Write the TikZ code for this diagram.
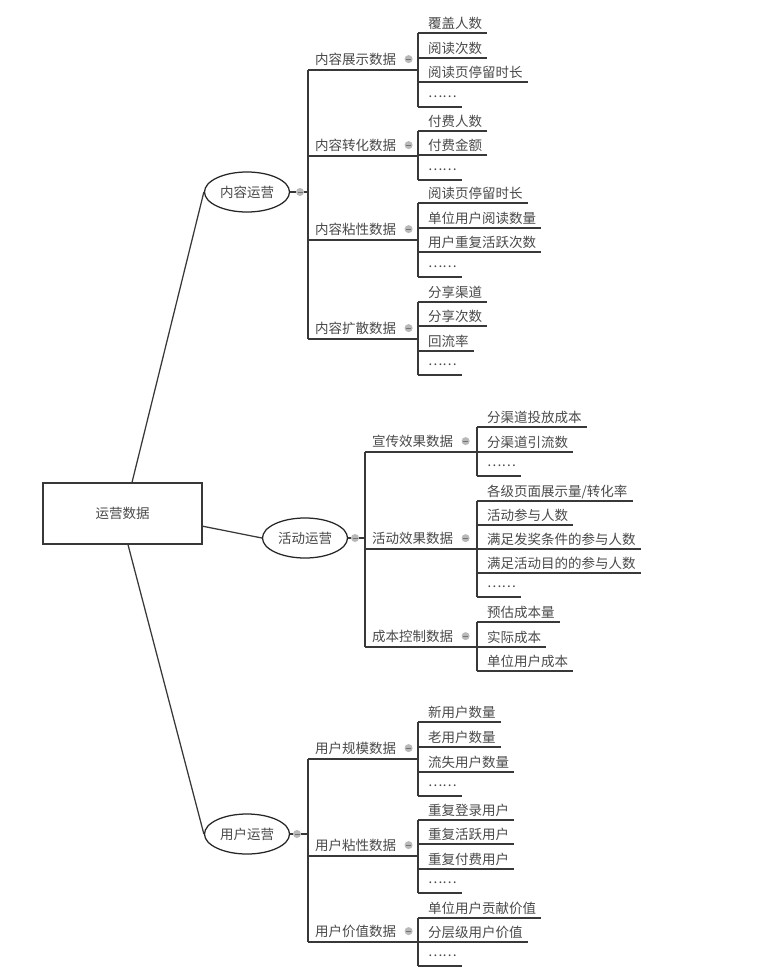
\documentclass[tikz,border=0pt]{standalone}
\usepackage{fontspec}
\setmainfont{Noto Sans CJK SC}
\usetikzlibrary{shapes.geometric, positioning}
\definecolor{inkline}{HTML}{383838}
\definecolor{inktext}{HTML}{4A4A4A}
\newcommand{\moredots}{\raisebox{5pt}{……}}
\tikzset{
    label font/.style={text=inktext, font=\fontsize{13.5}{16}\selectfont},
    branch/.style={draw=inkline, line width=1.25pt},
    rootbox/.style={rectangle, draw=inkline, line width=1.25pt, minimum width=159pt, minimum height=61pt, label font},
    topic/.style={ellipse, draw=black!85, line width=1.25pt, minimum width=85pt, minimum height=40pt, inner sep=0pt, label font},
    knob/.style={circle, fill=gray!55, minimum size=8pt, inner sep=0pt,
        path picture={\draw[gray!90!black, line width=0.8pt] ([xshift=-2.5pt]path picture bounding box.center) -- ([xshift=2.5pt]path picture bounding box.center);}},
    category/.style={anchor=south west, inner xsep=0pt, inner ysep=5pt, text depth=0pt, label font, execute at begin node={\hspace{7pt}}},
    leaf/.style={anchor=south west, inner xsep=5pt, inner ysep=4pt, text depth=0pt, label font, execute at begin node={\hspace{5pt}},
        append after command={(\tikzlastnode.south west) edge[branch] (\tikzlastnode.south east)}}
}
\begin{document}
\begin{tikzpicture}[x=1pt, y=-1pt]
        \fill[white] (0,0) rectangle (762,970);
        \useasboundingbox (0,0) rectangle (762,970);

        \node (yunying) [rootbox] at (122.5,513.5) {运营数据};
        \node (neirong) [topic] at (247,192) {内容运营};
        \node (huodongyy) [topic] at (305,538) {活动运营};
        \node (yonghu) [topic] at (247,834) {用户运营};
        \node (neirongk) [knob] at (300,192) {};
        \node (huodongyyk) [knob] at (355,538) {};
        \node (yonghuk) [knob] at (297,834) {};

        \draw [branch] (yunying.73) -- (neirong.west);
        \draw [branch] (yunying.-9) -- (huodongyy.west);
        \draw [branch] (yunying.-80) -- (yonghu.west);

        % 内容运营
        \node (zhanshi) [category] at (308,70) {内容展示数据};
        \node (zhuanhua) [category] at (308,156) {内容转化数据};
        \node (nianxing) [category] at (308,240) {内容粘性数据};
        \node (kuosan) [category] at (308,339) {内容扩散数据};

        \node (zhanshi1) [leaf] at (418,33) {覆盖人数};
        \node (zhanshi2) [leaf] at (418,58) {阅读次数};
        \node (zhanshi3) [leaf] at (418,82) {阅读页停留时长};
        \node (zhanshi4) [leaf] at (418,107) {\moredots};
        \node (zhuanhua1) [leaf] at (418,131) {付费人数};
        \node (zhuanhua2) [leaf] at (418,155) {付费金额};
        \node (zhuanhua3) [leaf] at (418,180) {\moredots};
        \node (nianxing1) [leaf] at (418,203) {阅读页停留时长};
        \node (nianxing2) [leaf] at (418,228) {单位用户阅读数量};
        \node (nianxing3) [leaf] at (418,252) {用户重复活跃次数};
        \node (nianxing4) [leaf] at (418,277) {\moredots};
        \node (kuosan1) [leaf] at (418,302) {分享渠道};
        \node (kuosan2) [leaf] at (418,326) {分享次数};
        \node (kuosan3) [leaf] at (418,351) {回流率};
        \node (kuosan4) [leaf] at (418,375) {\moredots};

        % 活动运营
        \node (xuanchuan) [category] at (365,452) {宣传效果数据};
        \node (xiaoguo) [category] at (365,549) {活动效果数据};
        \node (chengben) [category] at (365,647) {成本控制数据};

        \node (xuanchuan1) [leaf] at (477,427) {分渠道投放成本};
        \node (xuanchuan2) [leaf] at (477,452) {分渠道引流数};
        \node (xuanchuan3) [leaf] at (477,476) {\moredots};
        \node (xiaoguo1) [leaf] at (477,501) {各级页面展示量/转化率};
        \node (xiaoguo2) [leaf] at (477,525) {活动参与人数};
        \node (xiaoguo3) [leaf] at (477,549) {满足发奖条件的参与人数};
        \node (xiaoguo4) [leaf] at (477,573) {满足活动目的的参与人数};
        \node (xiaoguo5) [leaf] at (477,597) {\moredots};
        \node (chengben1) [leaf] at (477,622) {预估成本量};
        \node (chengben2) [leaf] at (477,647) {实际成本};
        \node (chengben3) [leaf] at (477,671) {单位用户成本};

        % 用户运营
        \node (guimo) [category] at (308,759) {用户规模数据};
        \node (zhanxing) [category] at (308,856) {用户粘性数据};
        \node (jiazhi) [category] at (308,942) {用户价值数据};

        \node (guimo1) [leaf] at (418,722) {新用户数量};
        \node (guimo2) [leaf] at (418,747) {老用户数量};
        \node (guimo3) [leaf] at (418,772) {流失用户数量};
        \node (guimo4) [leaf] at (418,796) {\moredots};
        \node (zhanxing1) [leaf] at (418,820) {重复登录用户};
        \node (zhanxing2) [leaf] at (418,844) {重复活跃用户};
        \node (zhanxing3) [leaf] at (418,869) {重复付费用户};
        \node (zhanxing4) [leaf] at (418,893) {\moredots};
        \node (jiazhi1) [leaf] at (418,918) {单位用户贡献价值};
        \node (jiazhi2) [leaf] at (418,942) {分层级用户价值};
        \node (jiazhi3) [leaf] at (418,966) {\moredots};

        % knobs beside the categories
        \node [knob, right=8pt of zhanshi.east] {};
        \node [knob, right=8pt of zhuanhua.east] {};
        \node [knob, right=8pt of nianxing.east] {};
        \node [knob, right=8pt of kuosan.east] {};
        \node [knob, right=8pt of xuanchuan.east] {};
        \node [knob, right=8pt of xiaoguo.east] {};
        \node [knob, right=8pt of chengben.east] {};
        \node [knob, right=8pt of guimo.east] {};
        \node [knob, right=8pt of zhanxing.east] {};
        \node [knob, right=8pt of jiazhi.east] {};

        % trunks
        \draw [branch] (neirong.east) -- (neirongk.west);
        \draw [branch] (neirongk.east) -- (neirongk.east -| zhanshi.south west);
        \draw [branch] (zhanshi.south west) -- (kuosan.south west);
        \draw [branch] (huodongyy.east) -- (huodongyyk.west);
        \draw [branch] (huodongyyk.east) -- (huodongyyk.east -| xuanchuan.south west);
        \draw [branch] (xuanchuan.south west) -- (chengben.south west);
        \draw [branch] (yonghu.east) -- (yonghuk.west);
        \draw [branch] (yonghuk.east) -- (yonghuk.east -| guimo.south west);
        \draw [branch] (guimo.south west) -- (jiazhi.south west);

        % category lines and leaf bars
        \draw [branch] (zhanshi.south west) -- (zhanshi.south west -| zhanshi1.south west);
        \draw [branch] (zhanshi1.south west) -- (zhanshi4.south west);
        \draw [branch] (zhuanhua.south west) -- (zhuanhua.south west -| zhuanhua1.south west);
        \draw [branch] (zhuanhua1.south west) -- (zhuanhua3.south west);
        \draw [branch] (nianxing.south west) -- (nianxing.south west -| nianxing1.south west);
        \draw [branch] (nianxing1.south west) -- (nianxing4.south west);
        \draw [branch] (kuosan.south west) -- (kuosan.south west -| kuosan1.south west);
        \draw [branch] (kuosan1.south west) -- (kuosan4.south west);
        \draw [branch] (xuanchuan.south west) -- (xuanchuan.south west -| xuanchuan1.south west);
        \draw [branch] (xuanchuan1.south west) -- (xuanchuan3.south west);
        \draw [branch] (xiaoguo.south west) -- (xiaoguo.south west -| xiaoguo1.south west);
        \draw [branch] (xiaoguo1.south west) -- (xiaoguo5.south west);
        \draw [branch] (chengben.south west) -- (chengben.south west -| chengben1.south west);
        \draw [branch] (chengben1.south west) -- (chengben3.south west);
        \draw [branch] (guimo.south west) -- (guimo.south west -| guimo1.south west);
        \draw [branch] (guimo1.south west) -- (guimo4.south west);
        \draw [branch] (zhanxing.south west) -- (zhanxing.south west -| zhanxing1.south west);
        \draw [branch] (zhanxing1.south west) -- (zhanxing4.south west);
        \draw [branch] (jiazhi.south west) -- (jiazhi.south west -| jiazhi1.south west);
        \draw [branch] (jiazhi1.south west) -- (jiazhi3.south west);
    \end{tikzpicture}
\end{document}
